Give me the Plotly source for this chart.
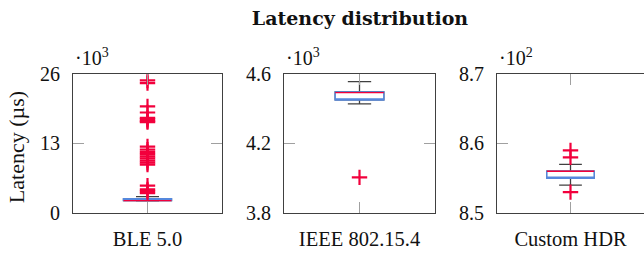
import plotly.graph_objects as go

# ---- data ----
categories = ["BLE 5.0", "IEEE 802.15.4", "Custom HDR"]
q1 = [2310, 4451, 855.0]
median = [2310, 4493, 856.0]
q3 = [2650, 4497, 856.0]
lowerfence = [2250, 4428, 854.0]
upperfence = [3050, 4556, 857.0]
outliers = [
    [24800, 24300, 19950, 18800, 17800, 17500, 17200, 17000,
     12430, 11850, 11400, 11000, 10600, 10200, 9800, 9400, 9050,
     5100, 4400, 4100, 3700],
    [4005],
    [859.0, 858.0, 853.0],
]
y_ranges = [[0, 26000], [3800, 4600], [850, 870]]
y_tickvals = [[0, 13000, 26000], [3800, 4200, 4600], [850, 860, 870]]
y_ticktext = [["0", "13", "26"], ["3.8", "4.2", "4.6"], ["8.5", "8.6", "8.7"]]
exponents = ["3", "3", "2"]

# ---- style ----
W, H = 644, 255
FONT = "Liberation Serif"
RED = "#f2003c"
BLUE = "#5588dd"
WHISK = "#404040"
AXIS = "#404040"
TICK = "#a0a0a0"
x_doms = [(73 / W, 222 / W), (284 / W, 435 / W), (497 / W, 1.0)]
y_dom = (1 - 221 / H, 1 - 69 / H)

fig = go.Figure()
for i, cat in enumerate(categories):
    xa = "x" if i == 0 else f"x{i+1}"
    ya = "y" if i == 0 else f"y{i+1}"
    # whiskers (dark)
    fig.add_trace(go.Box(
        x=[cat], q1=[q1[i]], median=[median[i]], q3=[q3[i]],
        lowerfence=[lowerfence[i]], upperfence=[upperfence[i]],
        xaxis=xa, yaxis=ya, line=dict(color=WHISK, width=1.3),
        fillcolor="white", whiskerwidth=0.48, boxpoints=False,
        showlegend=False, hoverinfo="skip"))
    # box (blue)
    fig.add_trace(go.Box(
        x=[cat], q1=[q1[i]], median=[q1[i]], q3=[q3[i]],
        lowerfence=[q1[i]], upperfence=[q3[i]],
        xaxis=xa, yaxis=ya, line=dict(color=BLUE, width=1.5),
        fillcolor="white", whiskerwidth=0, boxpoints=False,
        showlegend=False, hoverinfo="skip"))
    # median (red)
    fig.add_trace(go.Box(
        x=[cat], q1=[median[i]], median=[median[i]], q3=[median[i]],
        lowerfence=[median[i]], upperfence=[median[i]],
        xaxis=xa, yaxis=ya, line=dict(color=RED, width=1.3),
        fillcolor="rgba(0,0,0,0)", whiskerwidth=0, boxpoints=False,
        showlegend=False, hoverinfo="skip"))
    # outliers
    fig.add_trace(go.Scatter(
        x=[cat] * len(outliers[i]), y=outliers[i], mode="markers",
        xaxis=xa, yaxis=ya,
        marker=dict(symbol="cross-thin", size=11, color=RED,
                    line=dict(color=RED, width=2.2)),
        showlegend=False, hoverinfo="skip"))

    last = i == len(categories) - 1
    sfx = "" if i == 0 else str(i + 1)
    fig.layout["xaxis" + sfx] = dict(
        domain=x_doms[i], anchor=ya, type="category", range=[-0.5, 0.5],
        showline=True, linecolor=AXIS, linewidth=1.2, mirror="allticks",
        ticks="inside", ticklen=11, tickcolor=TICK, tickwidth=1,
        ticklabelstandoff=7,
        showgrid=False, zeroline=False, fixedrange=True,
        tickfont=dict(family=FONT, size=20.5, color="#111"))
    fig.layout["yaxis" + sfx] = dict(
        domain=y_dom, anchor=xa, range=y_ranges[i],
        tickvals=y_tickvals[i], ticktext=y_ticktext[i],
        showline=True, linecolor=AXIS, linewidth=1.2,
        mirror=False if last else "allticks",
        ticks="inside", ticklen=11, tickcolor=TICK, tickwidth=1,
        ticklabelstandoff=8,
        showgrid=False, zeroline=False, fixedrange=True,
        tickfont=dict(family=FONT, size=20, color="#111"))
    if last:
        # right-hand ticks of the last panel, whose border lies past the page edge
        fig.layout["yaxis" + str(len(categories) + 1)] = dict(
            overlaying=ya, anchor=xa, side="right", range=y_ranges[i],
            tickvals=y_tickvals[i], showticklabels=False, showline=False,
            ticks="inside", ticklen=7, tickcolor=TICK, tickwidth=1,
            showgrid=False, zeroline=False, fixedrange=True)
    fig.add_annotation(
        text=f"·10<sup>{exponents[i]}</sup>", xref="paper", yref="paper",
        x=x_doms[i][0], y=y_dom[1] + 3 / H, xanchor="left", yanchor="bottom",
        showarrow=False, font=dict(family=FONT, size=20, color="#111"))

fig.add_annotation(
    text="Latency (µs)", xref="paper", yref="paper", x=16 / W, y=1 - 149 / H,
    textangle=-90, showarrow=False, xanchor="center", yanchor="middle",
    font=dict(family=FONT, size=22, color="#111"))

fig.update_layout(
    width=W, height=H, margin=dict(l=0, r=0, t=0, b=0),
    paper_bgcolor="white", plot_bgcolor="white",
    boxmode="overlay", boxgap=0.54,
    title=dict(text="<b>Latency distribution</b>", x=360 / W, xanchor="center",
               y=1 - 18 / H, yanchor="middle",
               font=dict(family="DejaVu Serif", size=19, color="#111")),
)

fig.write_html("out.html", config={"displayModeBar": False},
               post_script="document.body.style.margin='0';")
